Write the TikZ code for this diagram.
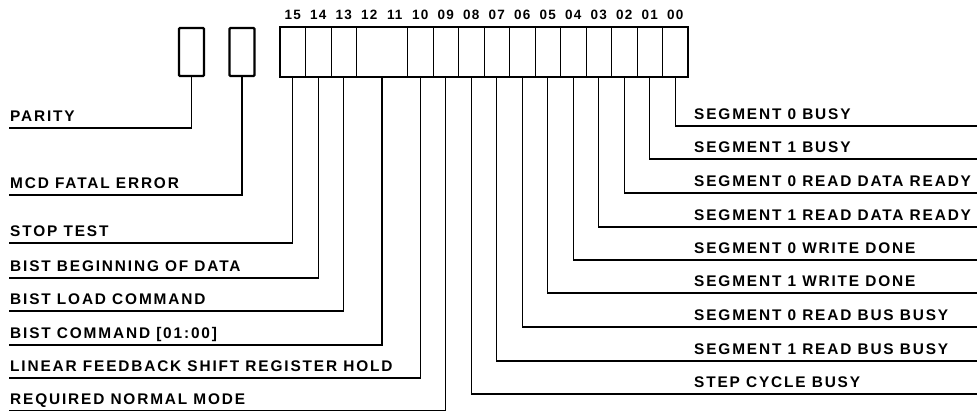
\documentclass[tikz,border=0pt]{standalone}
\usepackage{fontspec}
\usetikzlibrary{positioning}
\newfontfamily\regfont{Liberation Sans}[LetterSpace=12]
\newfontfamily\bitfont{Liberation Sans}[LetterSpace=8]
\tikzset{
  cell/.style={draw, line width=1pt, minimum width=25.5pt, minimum height=50pt, inner sep=0pt, outer sep=0pt},
  flag/.style={draw, line width=2.2pt, rounded corners=1pt, minimum width=25pt, minimum height=48pt, inner sep=0pt},
  bitno/.style={font=\bitfont\bfseries\fontsize{13.5}{16}\selectfont, inner sep=0pt, anchor=base},
  lbl/.style={font=\regfont\bfseries\fontsize{15.4}{18}\selectfont, anchor=south west, inner xsep=1pt, inner ysep=6pt, text depth=0pt},
  lead/.style={line width=1.2pt},
}
\begin{document}
\begin{tikzpicture}[x=1pt,y=-1pt]
    \useasboundingbox (0,0) rectangle (977,412);

    % single bit flags
    \node[flag] (par) at (191.5,52) {};
    \node[flag] (mcdf) at (242,52) {};

    % register cells 15..00
    \node[cell] (c15) at (292.75,52) {};
    \node[cell, right=0pt of c15] (c14) {};
    \node[cell, right=0pt of c14] (c13) {};
    \node[cell, right=0pt of c13, minimum width=51pt] (c12) {};
    \node[cell, right=0pt of c12] (c10) {};
    \node[cell, right=0pt of c10] (c09) {};
    \node[cell, right=0pt of c09] (c08) {};
    \node[cell, right=0pt of c08] (c07) {};
    \node[cell, right=0pt of c07] (c06) {};
    \node[cell, right=0pt of c06] (c05) {};
    \node[cell, right=0pt of c05] (c04) {};
    \node[cell, right=0pt of c04] (c03) {};
    \node[cell, right=0pt of c03] (c02) {};
    \node[cell, right=0pt of c02] (c01) {};
    \node[cell, right=0pt of c01] (c00) {};
    \draw[line width=2pt] (c15.north west) rectangle (c00.south east);

    % bit numbers
    \coordinate (nums) at (0,19.5);
    \node[bitno] (n15) at (c15 |- nums) {15};
    \node[bitno] (n14) at (c14 |- nums) {14};
    \node[bitno] (n13) at (c13 |- nums) {13};
    \node[bitno] (n12) at ([xshift=-12.75pt]c12 |- nums) {12};
    \node[bitno] (n11) at ([xshift=12.75pt]c12 |- nums) {11};
    \node[bitno] (n10) at (c10 |- nums) {10};
    \node[bitno] (n09) at (c09 |- nums) {09};
    \node[bitno] (n08) at (c08 |- nums) {08};
    \node[bitno] (n07) at (c07 |- nums) {07};
    \node[bitno] (n06) at (c06 |- nums) {06};
    \node[bitno] (n05) at (c05 |- nums) {05};
    \node[bitno] (n04) at (c04 |- nums) {04};
    \node[bitno] (n03) at (c03 |- nums) {03};
    \node[bitno] (n02) at (c02 |- nums) {02};
    \node[bitno] (n01) at (c01 |- nums) {01};
    \node[bitno] (n00) at (c00 |- nums) {00};

    % left side labels
    \node[lbl] (parity) at (9,128) {PARITY};
    \node[lbl] (mcd) at (9,195) {MCD FATAL ERROR};
    \node[lbl] (stop) at (9,243) {STOP TEST};
    \node[lbl] (bbod) at (9,278) {BIST BEGINNING OF DATA};
    \node[lbl] (bload) at (9,311) {BIST LOAD COMMAND};
    \node[lbl] (bcmd) at (9,345) {BIST COMMAND [01:00]};
    \node[lbl] (lfsr) at (9,378) {LINEAR FEEDBACK SHIFT REGISTER HOLD};
    \node[lbl] (rnm) at (9,410.5) {REQUIRED NORMAL MODE};

    % right side labels
    \coordinate (edge) at (977,0);
    \node[lbl] (s0busy) at (693,126) {SEGMENT 0 BUSY};
    \node[lbl] (s1busy) at (693,159) {SEGMENT 1 BUSY};
    \node[lbl] (s0rdr) at (693,193) {SEGMENT 0 READ DATA READY};
    \node[lbl] (s1rdr) at (693,227) {SEGMENT 1 READ DATA READY};
    \node[lbl] (s0wd) at (693,260) {SEGMENT 0 WRITE DONE};
    \node[lbl] (s1wd) at (693,293) {SEGMENT 1 WRITE DONE};
    \node[lbl] (s0rbb) at (693,327) {SEGMENT 0 READ BUS BUSY};
    \node[lbl] (s1rbb) at (693,361) {SEGMENT 1 READ BUS BUSY};
    \node[lbl] (scb) at (693,394) {STEP CYCLE BUSY};

    % leads to the left
    \draw[lead] (par.south) |- (parity.south west);
    \draw[lead] (mcdf.south) |- (mcd.south west);
    \draw[lead] (c15.south) |- (stop.south west);
    \draw[lead] (c14.south) |- (bbod.south west);
    \draw[lead] (c13.south) |- (bload.south west);
    \draw[lead] (c12.south) |- (bcmd.south west);
    \draw[lead] (c10.south) |- (lfsr.south west);
    \draw[lead] (c09.south) |- (rnm.south west);

    % leads to the right
    \draw[lead] (c00.south) |- (edge |- s0busy.south);
    \draw[lead] (c01.south) |- (edge |- s1busy.south);
    \draw[lead] (c02.south) |- (edge |- s0rdr.south);
    \draw[lead] (c03.south) |- (edge |- s1rdr.south);
    \draw[lead] (c04.south) |- (edge |- s0wd.south);
    \draw[lead] (c05.south) |- (edge |- s1wd.south);
    \draw[lead] (c06.south) |- (edge |- s0rbb.south);
    \draw[lead] (c07.south) |- (edge |- s1rbb.south);
    \draw[lead] (c08.south) |- (edge |- scb.south);
\end{tikzpicture}
\end{document}
